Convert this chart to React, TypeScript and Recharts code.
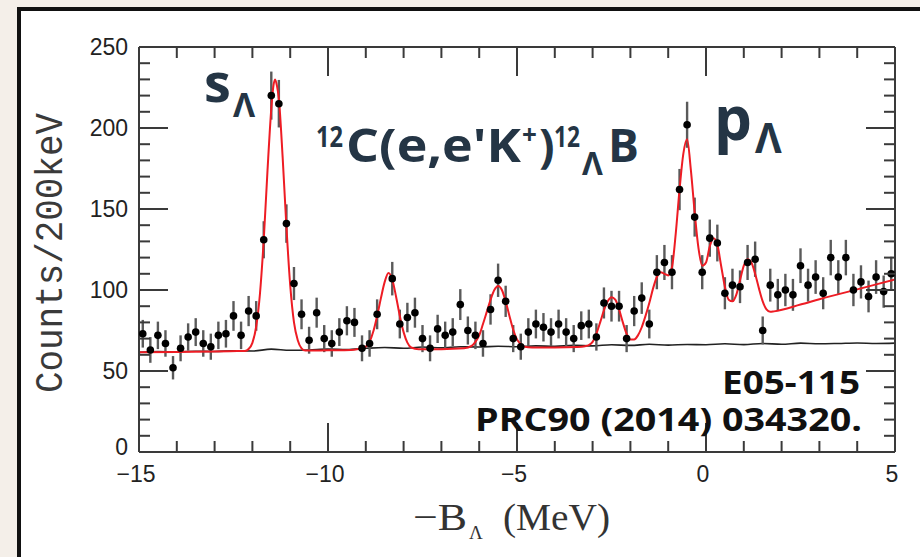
import { ComposedChart, XAxis, YAxis, Line, Scatter, ErrorBar } from 'recharts'

// 200 keV bins, centres from -14.9 MeV
const BIN_START = -14.9
const BIN_WIDTH = 0.2
const counts: (number | null)[] = [
  73, 63, 72, 67, 52, 64, 71, 74, 67, 65,
  72, 73, 84, 72, 87, 84, 131, 220, 215, 141,
  104, 85, 69, 86, 70, 67, 74, 81, 80, 64,
  67, 85, null, 107, 79, 83, 86, 70, 64, 76,
  72, 74, 91, 75, 72, 67, 88, 106, 93, 70,
  65, 74, 79, 77, 74, 79, 74, 70, 78, 79,
  71, 92, 90, 90, 70, 87, 95, 79, 111, 117,
  111, 162, 202, 145, 111, 132, 129, 98, 103, 102,
  117, 119, 75, 103, 97, 100, 97, 115, 103, 108,
  98, 120, 108, 120, 100, 105, 96, 108, 99, 110,
]

// red fit curve
const fitX = [
  -15, -14, -13, -12.4, -12.2, -12.1, -12.0, -11.9, -11.8, -11.7, -11.6, -11.5, -11.45, -11.4, -11.35, -11.3,
  -11.2, -11.1, -11.0, -10.9, -10.8, -10.7, -10.6, -10.0, -9.4, -9.2, -9.0, -8.9, -8.8, -8.7, -8.6,
  -8.5, -8.4, -8.3, -8.2, -8.1, -8.0, -7.9, -7.8, -7.6, -7.0, -6.4, -6.2, -6.1, -6.0, -5.9, -5.8,
  -5.7, -5.6, -5.5, -5.4, -5.3, -5.2, -5.1, -5.0, -4.9, -4.8, -4.6, -4.0, -3.4, -3.2, -3.1, -3.0,
  -2.9, -2.8, -2.7, -2.6, -2.5, -2.4, -2.3, -2.2, -2.1, -2.0, -1.9, -1.8, -1.7, -1.6, -1.5, -1.4,
  -1.3, -1.2, -1.1, -1.0, -0.9, -0.8, -0.7, -0.6, -0.5, -0.4, -0.3, -0.2, -0.1, 0.0, 0.1, 0.2,
  0.3, 0.4, 0.5, 0.6, 0.7, 0.8, 0.9, 1.0, 1.1, 1.2, 1.3, 1.4, 1.5, 1.6, 1.7, 1.8, 2.5, 3.0, 4.0, 5.0,
]
const fitY = [
  61.5, 61.8, 62, 62.3, 62.4, 63.6, 67.4, 77.3, 97.7, 131, 174, 212, 225, 230, 226, 218,
  182, 139, 103, 80, 69, 64, 62.6, 62.8, 63, 63.6, 65, 68, 74.5, 84, 95,
  105, 110.5, 106.5, 96, 84, 74, 67.5, 64.5, 63.5, 63.5, 64, 65.5, 68, 72, 79, 86.5,
  94, 100, 102.5, 100, 93, 84, 75.5, 69.5, 66.5, 65, 64.5, 64.5, 64.8, 65.3, 66, 68,
  73, 80, 87.5, 93, 95.5, 94, 88, 80, 73, 69.5, 69.5, 72, 77, 84, 92, 101,
  108, 111, 110, 109, 114, 135, 162, 184, 193, 174, 148, 126, 115, 117, 127, 132,
  128, 115, 102, 94, 93, 97, 106, 115, 119, 117, 110, 101, 93, 88, 86.5, 86.8, 91, 94.3, 100.4, 106.5,
]

// black background (accidentals) curve
const bgX = [
  -15, -14.5, -14, -13.5, -13, -12.5, -12, -11.5, -11, -10.5, -10, -9.5, -9, -8.5, -8, -7.5, -7, -6.5, -6, -5.5, -5,
  -4.5, -4, -3.5, -3, -2.5, -2, -1.5, -1, -0.5, 0, 0.5, 1, 1.5, 2, 2.5, 3, 3.5, 4, 4.5, 5,
]
const bgY = [
  61.5, 62, 61.8, 62.2, 62, 62.5, 62.3, 63.5, 62.8, 63, 63.5, 63.2, 64, 64.5, 64, 64.8, 64.3, 65, 64.8, 65.3, 65,
  65.5, 65.2, 65.8, 65.5, 66.2, 65.8, 66.5, 66, 66.4, 66.2, 66.8, 66.3, 67, 66.5, 67.2, 66.8, 67, 67.3, 67, 67.2,
]

const xTicks = [-15, -14, -13, -12, -11, -10, -9, -8, -7, -6, -5, -4, -3, -2, -1, 0, 1, 2, 3, 4, 5]
const yTicks = [0, 10, 20, 30, 40, 50, 60, 70, 80, 90, 100, 110, 120, 130, 140, 150, 160, 170, 180, 190, 200, 210, 220, 230, 240, 250]

const points = counts
  .map((c, i) => (c == null ? null : { x: +(BIN_START + i * BIN_WIDTH).toFixed(2), y: c, err: Math.sqrt(c) })) // Poisson errors
  .filter(Boolean) as { x: number; y: number; err: number }[]
const fit = fitX.map((x, i) => ({ x, y: fitY[i] }))
const bg = bgX.map((x, i) => ({ x, y: bgY[i] }))

const AX = '#3a3a3a'
const INK = '#243545'
const tickFont = { fontFamily: 'Liberation Sans, Arial, sans-serif', fontSize: 23, fill: '#222' }

const BottomTick = ({ x, y, payload }: any) => {
  const major = payload.value % 5 === 0
  const label = payload.value < 0 ? '\u2212' + Math.abs(payload.value) : String(payload.value)
  return (
    <g>
      <line x1={x} y1={y} x2={x} y2={y - (major ? 29 : 11)} stroke={AX} strokeWidth={2} />
      {major && (
        <text x={x - 3} y={y + 30} textAnchor="middle" {...tickFont}>
          {label}
        </text>
      )}
    </g>
  )
}

const TopTick = ({ x, y, payload }: any) => {
  const major = payload.value % 5 === 0
  return <line x1={x} y1={y} x2={x} y2={y + (major ? 29 : 11)} stroke={AX} strokeWidth={2} />
}

const LeftTick = ({ x, y, payload }: any) => {
  const major = payload.value % 50 === 0
  return (
    <g>
      <line x1={x} y1={y} x2={x + (major ? 29 : 11)} y2={y} stroke={AX} strokeWidth={2} />
      {major && (
        <text x={x - 11} y={payload.value === 0 ? y + 3 : y + 8} textAnchor="end" {...tickFont}>
          {payload.value}
        </text>
      )}
    </g>
  )
}

const RightTick = ({ x, y, payload }: any) => {
  const major = payload.value % 50 === 0
  return <line x1={x} y1={y} x2={x - (major ? 29 : 11)} y2={y} stroke={AX} strokeWidth={2} />
}

const Dot = ({ cx, cy }: any) => <circle cx={cx} cy={cy} r={3.8} fill="#000" />

export default function App() {
  return (
    <div style={{ position: 'relative', width: 920, height: 557, background: '#f4efe9', overflow: 'hidden' }}>
      <style>{`body{margin:0}`}</style>
      <div
        style={{
          position: 'absolute',
          left: 17,
          top: 7,
          width: 1000,
          height: 1000,
          border: '4px solid #111',
          background: '#fff',
        }}
      />
      <div style={{ position: 'absolute', left: 0, top: 0 }}>
        <ComposedChart width={920} height={557} margin={{ top: 46, right: 24, bottom: 104, left: 138 }}>
          <XAxis
            xAxisId="b"
            type="number"
            dataKey="x"
            domain={[-15, 5]}
            ticks={xTicks}
            interval={0}
            allowDataOverflow
            height={1}
            tickSize={0}
            tickMargin={0}
            tickLine={false}
            axisLine={{ stroke: AX, strokeWidth: 2 }}
            tick={BottomTick}
          />
          <XAxis
            xAxisId="t"
            orientation="top"
            type="number"
            dataKey="x"
            domain={[-15, 5]}
            ticks={xTicks}
            interval={0}
            allowDataOverflow
            height={1}
            tickSize={0}
            tickMargin={0}
            tickLine={false}
            axisLine={{ stroke: AX, strokeWidth: 2 }}
            tick={TopTick}
          />
          <YAxis
            yAxisId="l"
            type="number"
            dataKey="y"
            domain={[0, 250]}
            ticks={yTicks}
            interval={0}
            allowDataOverflow
            width={1}
            tickSize={0}
            tickMargin={0}
            tickLine={false}
            axisLine={{ stroke: AX, strokeWidth: 2 }}
            tick={LeftTick}
          />
          <YAxis
            yAxisId="r"
            orientation="right"
            type="number"
            dataKey="y"
            domain={[0, 250]}
            ticks={yTicks}
            interval={0}
            allowDataOverflow
            width={1}
            tickSize={0}
            tickMargin={0}
            tickLine={false}
            axisLine={{ stroke: AX, strokeWidth: 2 }}
            tick={RightTick}
          />
          <Line
            xAxisId="b"
            yAxisId="l"
            data={bg}
            dataKey="y"
            type="monotone"
            stroke="#222"
            strokeWidth={1.6}
            dot={false}
            isAnimationActive={false}
          />
          <Scatter xAxisId="b" yAxisId="l" data={points} dataKey="y" shape={Dot} isAnimationActive={false}>
            <ErrorBar dataKey="err" direction="y" width={0} stroke="#5a5a5a" strokeWidth={2.4} />
          </Scatter>
          <Line
            xAxisId="b"
            yAxisId="l"
            data={fit}
            dataKey="y"
            type="monotone"
            stroke="#ee1c24"
            strokeWidth={2}
            dot={false}
            isAnimationActive={false}
          />
        </ComposedChart>
      </div>
      <svg width={920} height={557} style={{ position: 'absolute', left: 0, top: 0, pointerEvents: 'none' }}>
        <text
          transform="translate(62,253) rotate(-90) scale(1,1.15)"
          textAnchor="middle"
          fontFamily="Liberation Mono, DejaVu Sans Mono, monospace"
          fontSize={33}
          fill="#3a3a3a"
          textLength={280}
          lengthAdjust="spacingAndGlyphs"
        >
          Counts/200keV
        </text>
        <g fontFamily="Liberation Serif, DejaVu Serif, serif" fill="#333">
          <text x={413} y={530} fontSize={38} textLength={54} lengthAdjust="spacingAndGlyphs">
            {'\u2212B'}
          </text>
          <text x={469} y={539} fontSize={19}>
            Λ
          </text>
          <text x={503} y={530} fontSize={38} textLength={107} lengthAdjust="spacingAndGlyphs">
            (MeV)
          </text>
        </g>
        <g fontFamily="Open Sans, Noto Sans, sans-serif" fontWeight={700} fill={INK}>
          <text x={204} y={102} fontSize={54}>
            s
          </text>
          <text x={233} y={117} fontSize={34}>
            Λ
          </text>
          <text x={316} y={147} fontSize={28} textLength={27} lengthAdjust="spacingAndGlyphs">
            12
          </text>
          <text x={346} y={162} fontSize={46} textLength={175} lengthAdjust="spacingAndGlyphs">
            C(e,e'K
          </text>
          <text x={522} y={144} fontSize={26}>
            +
          </text>
          <text x={539} y={162} fontSize={46}>
            )
          </text>
          <text x={554} y={147} fontSize={28} textLength={26} lengthAdjust="spacingAndGlyphs">
            12
          </text>
          <text x={582} y={175} fontSize={32}>
            Λ
          </text>
          <text x={608} y={162} fontSize={46}>
            B
          </text>
          <text x={714} y={140} fontSize={60}>
            p
          </text>
          <text x={755} y={153} fontSize={41}>
            Λ
          </text>
        </g>
        <g fontFamily="Open Sans, Noto Sans, sans-serif" fontWeight={700} fill="#111" textAnchor="end">
          <text x={860} y={394} fontSize={32} textLength={138} lengthAdjust="spacingAndGlyphs">
            E05-115
          </text>
          <text x={862} y={431} fontSize={32} textLength={387} lengthAdjust="spacingAndGlyphs">
            PRC90 (2014) 034320.
          </text>
        </g>
      </svg>
    </div>
  )
}
